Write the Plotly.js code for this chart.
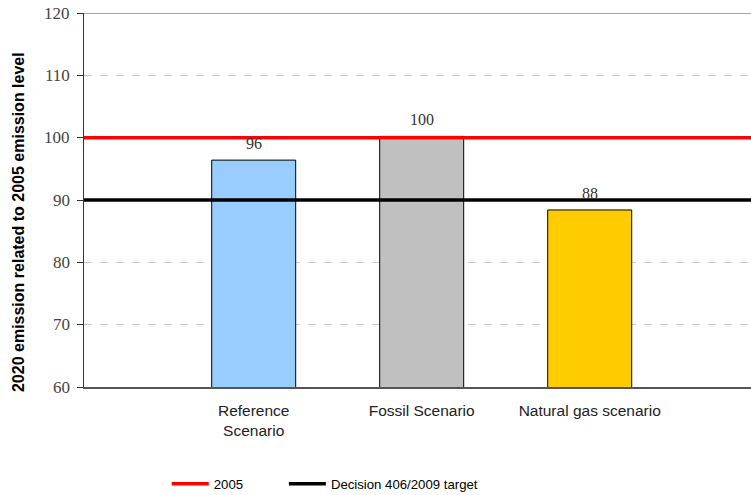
<!DOCTYPE html>
<html>
<head>
<meta charset="utf-8">
<script src="https://cdn.plot.ly/plotly-3.0.1.min.js"></script>
<style>
  html, body { margin: 0; padding: 0; background: #fff; }
  #chart { width: 751px; height: 495px; }
</style>
</head>
<body>
<div id="chart"></div>
<script>
// Scenario results: 2020 emissions relative to the 2005 level
const scenarios = ['Reference<br>Scenario', 'Fossil Scenario', 'Natural gas scenario'];
const emissions = [96.4, 100.2, 88.4];
const barColors = ['#99ccff', '#c0c0c0', '#ffcc00'];

// Reference levels drawn as horizontal lines
const level2005 = 100;
const decisionTarget = 90;
const xSpan = [-1.01, 2.96];
const yTicks = [60, 70, 80, 90, 100, 110, 120];

const positions = scenarios.map((_, i) => i);

const serif = '"Liberation Serif", "Times New Roman", serif';
const sans = '"Liberation Sans", Arial, sans-serif';

const bars = {
  type: 'bar',
  x: positions,
  y: emissions,
  width: 0.5,
  marker: { color: barColors, line: { color: '#000', width: 1 } },
  showlegend: false,
  hoverinfo: 'skip'
};

const line2005 = {
  type: 'scatter', mode: 'lines',
  x: xSpan, y: [level2005, level2005],
  line: { color: '#ff0000', width: 3.5 },
  name: '2005', legend: 'legend'
};

const lineTarget = {
  type: 'scatter', mode: 'lines',
  x: xSpan, y: [decisionTarget, decisionTarget],
  line: { color: '#000000', width: 3.5 },
  name: 'Decision 406/2009 target', legend: 'legend2'
};

// Value labels above each bar, rounded to whole numbers
const valueLabels = emissions.map((v, i) => ({
  x: positions[i], y: v, xref: 'x', yref: 'y',
  text: String(Math.round(v)),
  showarrow: false, yanchor: 'bottom', yshift: 6,
  font: { family: serif, size: 16, color: 'rgb(51,51,51)' }
}));

// Serif y-axis labels placed on the y scale, left of the tick marks
const yTickLabels = yTicks.map(t => ({
  x: 0, y: t, xref: 'paper', yref: 'y',
  text: String(t),
  showarrow: false, xanchor: 'right', yanchor: 'middle', xshift: -12,
  font: { family: serif, size: 17, color: '#444' }
}));

const yTitle = {
  xref: 'paper', yref: 'paper', x: -0.099, y: 0.441,
  xanchor: 'center', yanchor: 'middle', textangle: -90, showarrow: false,
  text: '<b>2020 emission related to 2005 emission level</b>',
  font: { family: sans, size: 16, color: '#000' }
};

const legendFont = { family: sans, size: 13.2, color: '#000' };

const layout = {
  width: 751, height: 495,
  margin: { l: 84, r: 0, t: 13, b: 108 },
  paper_bgcolor: '#fff', plot_bgcolor: '#fff',
  font: { family: sans },
  showlegend: true,
  legend: {
    orientation: 'h', xref: 'container', yref: 'container',
    x: 0.222, xanchor: 'left', y: 0.022, yanchor: 'middle',
    font: legendFont, bgcolor: 'rgba(0,0,0,0)', itemwidth: 37
  },
  legend2: {
    orientation: 'h', xref: 'container', yref: 'container',
    x: 0.378, xanchor: 'left', y: 0.022, yanchor: 'middle',
    font: legendFont, bgcolor: 'rgba(0,0,0,0)', itemwidth: 37
  },
  xaxis: {
    range: xSpan,
    tickmode: 'array', tickvals: positions, ticktext: scenarios,
    showgrid: false, zeroline: false,
    showline: true, linecolor: '#555', linewidth: 1.5,
    ticks: '', ticklabelstandoff: 9,
    tickfont: { family: sans, size: 15.5, color: '#222' },
    fixedrange: true
  },
  yaxis: {
    range: [60, 120],
    tickmode: 'array', tickvals: yTicks,
    showticklabels: false,
    showgrid: true, gridcolor: '#c8c8c8', griddash: '8px,8px', gridwidth: 1,
    zeroline: false,
    showline: true, linecolor: '#333', linewidth: 1.5,
    ticks: 'outside', ticklen: 6, tickcolor: '#333',
    automargin: false,
    fixedrange: true
  },
  annotations: valueLabels.concat(yTickLabels, [yTitle]),
  shapes: [
    { type: 'line', xref: 'paper', yref: 'y', x0: 0, x1: 1, y0: 120, y1: 120,
      line: { color: '#888', width: 1.5 } }
  ]
};

Plotly.newPlot('chart', [bars, line2005, lineTarget], layout, { displayModeBar: false, staticPlot: true });
</script>
</body>
</html>
